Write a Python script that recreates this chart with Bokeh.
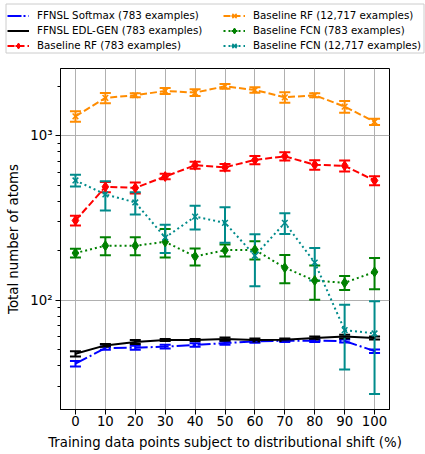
import math

from bokeh.embed import file_html
from bokeh.resources import INLINE
from bokeh.plotting import figure
from bokeh.layouts import column
from bokeh.models import (ColumnDataSource, Whisker, TeeHead, Legend, LegendItem,
                          FixedTicker, Range1d)

# ---- data -------------------------------------------------------------
shift_pct = [0, 10, 20, 30, 40, 50, 60, 70, 80, 90, 100]

softmax_mean = [41.3, 51.3, 51.6, 52.4, 53.6, 55.1, 56.4, 56.9, 56.9, 56.7, 49.2]
softmax_err = [1.6, 1.2, 1.5, 1.3, 1.3, 1.3, 1.0, 1.0, 1.0, 1.2, 1.2]

edl_mean = [47.4, 53.3, 55.9, 57.4, 57.4, 58.2, 57.4, 57.6, 59.1, 60.3, 59.1]
edl_err = [1.7, 1.0, 1.5, 0.8, 0.8, 1.4, 1.2, 1.0, 1.2, 1.5, 1.2]

rf_small_mean = [306, 490, 483, 566, 663, 644, 714, 751, 667, 658, 535]
rf_small_err = [21, 35, 37, 22, 32, 31, 41, 43, 45, 51, 34]

rf_large_mean = [1315, 1702, 1765, 1875, 1832, 2000, 1900, 1715, 1765, 1506, 1217]
rf_large_err = [95, 122, 50, 80, 86, 66, 72, 123, 50, 125, 52]

fcn_small_mean = [194, 215, 215, 227, 185, 202, 203, 158, 132, 128, 149]
fcn_small_err = [12, 27, 27, 45, 22, 17, 26, 31, 31, 12.5, 32]

fcn_large_mean = [536, 441, 394, 241, 323, 296, 187, 296, 170, 66, 63]
fcn_large_err = [44, 89, 61, 47, 53, 72, 65, 43, 38, 28, 36]

x_ticks = [0, 10, 20, 30, 40, 50, 60, 70, 80, 90, 100]
y_major = [100, 1000]
y_labels = {100: "10²", 1000: "10³"}

FONT = "DejaVu Sans"

series = [
    dict(label="FFNSL Softmax (783 examples)", mean=softmax_mean, err=softmax_err,
         color="#0000ff", dash="13 3 2 3", marker=None),
    dict(label="FFNSL EDL-GEN (783 examples)", mean=edl_mean, err=edl_err,
         color="#000000", dash="solid", marker=None),
    dict(label="Baseline RF (783 examples)", mean=rf_small_mean, err=rf_small_err,
         color="#ff0000", dash="7 3", marker="diamond"),
    dict(label="Baseline RF (12,717 examples)", mean=rf_large_mean, err=rf_large_err,
         color="#ff8c00", dash="7 3", marker="x"),
    dict(label="Baseline FCN (783 examples)", mean=fcn_small_mean, err=fcn_small_err,
         color="#008000", dash="2 3", marker="diamond"),
    dict(label="Baseline FCN (12,717 examples)", mean=fcn_large_mean, err=fcn_large_err,
         color="#008b8b", dash="2 3", marker="x"),
]


def no_frame_align(fig):
    try:
        fig.frame_align = False
    except AttributeError:
        pass


# y limits: data + error extents with a 5% margin in log space
lows = [m - e for s in series for m, e in zip(s["mean"], s["err"])]
highs = [m + e for s in series for m, e in zip(s["mean"], s["err"])]
lo, hi = math.log10(min(lows)), math.log10(max(highs))
pad = 0.05 * (hi - lo)
y_lo, y_hi = 10 ** (lo - pad), 10 ** (hi + pad)

# ---- main chart -------------------------------------------------------
p = figure(width=425, height=394, y_axis_type="log",
           x_range=Range1d(-5, 105), y_range=Range1d(y_lo, y_hi),
           output_backend="svg", toolbar_location=None,
           min_border_left=60, min_border_right=36,
           min_border_top=8, min_border_bottom=45)
no_frame_align(p)

p.outline_line_color = "black"
p.outline_line_width = 1
p.background_fill_color = "white"
p.border_fill_color = "white"

p.xgrid.grid_line_color = "#b0b0b0"
p.ygrid.grid_line_color = "#b0b0b0"
p.xgrid.grid_line_width = 1
p.ygrid.grid_line_width = 1

p.xaxis.ticker = FixedTicker(ticks=x_ticks)
minor = [m * 10 ** k for k in range(1, 4) for m in range(2, 10)]
p.yaxis.ticker = FixedTicker(ticks=y_major, minor_ticks=minor)
p.yaxis.major_label_overrides = y_labels

for ax in (p.xaxis[0], p.yaxis[0]):
    ax.axis_line_color = "black"
    ax.axis_line_width = 1
    ax.major_tick_line_color = "black"
    ax.minor_tick_line_color = "black"
    ax.major_tick_in = 0
    ax.major_tick_out = 5
    ax.minor_tick_in = 0
    ax.minor_tick_out = 3
    ax.major_label_text_font = FONT
    ax.major_label_text_font_size = "13.3px"
    ax.major_label_text_color = "black"
    ax.axis_label_text_font = FONT
    ax.axis_label_text_font_size = "13.3px"
    ax.axis_label_text_font_style = "normal"
    ax.axis_label_text_color = "black"
p.xaxis.minor_tick_out = 0

p.xaxis.axis_label = "Training data points subject to distributional shift (%)"
p.yaxis.axis_label = "Total number of atoms"
p.xaxis.major_label_standoff = 1
p.xaxis.axis_label_standoff = 6
p.yaxis.major_label_standoff = 3
p.yaxis.axis_label_standoff = 6

sources = []
for s in series:
    lower = [m - e for m, e in zip(s["mean"], s["err"])]
    upper = [m + e for m, e in zip(s["mean"], s["err"])]
    src = ColumnDataSource(dict(x=shift_pct, y=s["mean"], lower=lower, upper=upper))
    sources.append(src)

    p.line("x", "y", source=src, line_color=s["color"], line_width=2,
           line_dash=s["dash"])

    wh = Whisker(base="x", lower="lower", upper="upper", source=src,
                 line_color=s["color"], line_width=2,
                 upper_head=TeeHead(size=11, line_color=s["color"], line_width=2),
                 lower_head=TeeHead(size=11, line_color=s["color"], line_width=2))
    p.add_layout(wh)

    if s["marker"] == "diamond":
        p.scatter("x", "y", source=src, marker="diamond", size=10,
                  fill_color=s["color"], line_color=s["color"], line_width=1)
    elif s["marker"] == "x":
        p.scatter("x", "y", source=src, marker="x", size=8,
                  line_color=s["color"], line_width=1.5)

# ---- legend band ------------------------------------------------------
# Band ranges run in pixels (y counts down from the top as negative numbers),
# so the series glyphs, all at positive y, only appear inside the legend.
BAND_W, BAND_H = 425, 60
lf = figure(width=BAND_W, height=BAND_H,
            x_range=Range1d(0, BAND_W), y_range=Range1d(-BAND_H, 0),
            x_axis_location=None, y_axis_location=None,
            output_backend="svg", toolbar_location=None,
            min_border_left=0, min_border_right=0,
            min_border_top=0, min_border_bottom=0)
no_frame_align(lf)
lf.outline_line_color = None
lf.grid.visible = False
lf.background_fill_color = "white"
lf.border_fill_color = "white"

# legend frame
box_left, box_right, box_top, box_bottom = 5.5, 423.5, -3.5, -52.5
lf.quad(left=[box_left], right=[box_right], top=[box_top], bottom=[box_bottom],
        fill_color="white", line_color="#cccccc", line_width=1)

items = []
for s, src in zip(series, sources):
    rs = [lf.line("x", "y", source=src, line_color=s["color"], line_width=2,
                  line_dash=s["dash"])]
    rs.append(lf.scatter("x", "y", source=src, marker="dash", angle=math.pi / 2,
                         line_color=s["color"], line_width=2))
    if s["marker"] == "diamond":
        rs.append(lf.scatter("x", "y", source=src, marker="diamond",
                             fill_color=s["color"], line_color=s["color"]))
    elif s["marker"] == "x":
        rs.append(lf.scatter("x", "y", source=src, marker="x",
                             line_color=s["color"], line_width=1.5))
    items.append(LegendItem(label=s["label"], renderers=rs))

common = dict(label_text_font=FONT, label_text_font_size="10.3px",
              label_text_color="black",
              glyph_width=22, glyph_height=15, label_height=15,
              label_standoff=8, spacing=0, padding=2, margin=0,
              border_line_color=None, background_fill_alpha=0)

legend_left = Legend(items=items[:3], location=(7, 7.5), **common)
legend_right = Legend(items=items[3:], location=(223, 7.5), **common)
lf.add_layout(legend_left)
lf.add_layout(legend_right)

layout = column(lf, p, spacing=0)
open("out.html", "w").write(file_html(layout, INLINE))
